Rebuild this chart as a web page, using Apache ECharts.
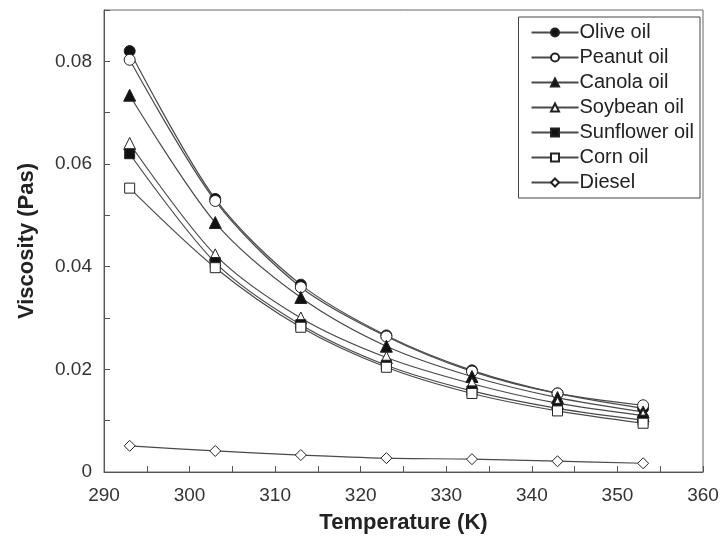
<!DOCTYPE html>
<html>
<head>
<meta charset="utf-8">
<script src="https://cdn.jsdelivr.net/npm/echarts@6/dist/echarts.min.js"></script>
<style>
  html, body { margin: 0; padding: 0; background: #fff; }
  #chart { width: 724px; height: 548px; }
</style>
</head>
<body>
<div id="chart"></div>
<script>
// temperatures (K)
const temps = [293, 303, 313, 323, 333, 343, 353];

// viscosity (Pa s)
const olive     = [0.0820, 0.0532, 0.0365, 0.0266, 0.0198, 0.0153, 0.0124];
const peanut    = [0.0803, 0.0528, 0.0360, 0.0264, 0.0196, 0.0153, 0.0130];
const canola    = [0.0734, 0.0486, 0.0340, 0.0245, 0.0186, 0.0145, 0.0117];
const soybean   = [0.0640, 0.0423, 0.0300, 0.0223, 0.0172, 0.0134, 0.0110];
const sunflower = [0.0620, 0.0408, 0.0287, 0.0208, 0.0158, 0.0124, 0.0101];
const corn      = [0.0553, 0.0398, 0.0282, 0.0204, 0.0153, 0.0119, 0.0095];
const diesel    = [0.0051, 0.0041, 0.0033, 0.0027, 0.0025, 0.0021, 0.0017];

const lineColor = '#4a4a4a';
const fontFamily = '"Liberation Sans", Arial, sans-serif';

const pairs = arr => temps.map((t, i) => [t, arr[i]]);

// symbol style per series
const makeSeries = (name, values, symbol, filled, size) => ({
  name,
  type: 'line',
  data: pairs(values),
  smooth: 0.3,
  symbol,
  symbolSize: size,
  showAllSymbol: true,
  lineStyle: { color: lineColor, width: 1.2 },
  itemStyle: {
    color: filled ? '#111' : '#fff',
    borderColor: '#222',
    borderWidth: 1
  },
  emphasis: { disabled: true }
});

const series = [
  makeSeries('Olive oil', olive, 'circle', true, 11),
  makeSeries('Peanut oil', peanut, 'circle', false, 11),
  makeSeries('Canola oil', canola, 'triangle', true, 12),
  makeSeries('Soybean oil', soybean, 'triangle', false, 12),
  makeSeries('Sunflower oil', sunflower, 'rect', true, 10),
  makeSeries('Corn oil', corn, 'rect', false, 10),
  makeSeries('Diesel', diesel, 'diamond', false, 11)
];

const chart = echarts.init(document.getElementById('chart'));

chart.setOption({
  animation: false,
  grid: {
    left: 104,
    right: 21,
    top: 10,
    bottom: 76,
    show: true,
    borderColor: '#666',
    borderWidth: 1
  },
  legend: {
    orient: 'vertical',
    right: 24,
    top: 17,
    padding: [5, 6, 5, 12],
    itemGap: 4,
    itemWidth: 47,
    itemHeight: 10,
    backgroundColor: '#fff',
    borderColor: '#444',
    borderWidth: 1,
    textStyle: { fontSize: 20, lineHeight: 21, color: '#222', fontFamily, padding: [0, 0, 0, -4] },
    data: series.map(s => s.name)
  },
  xAxis: {
    type: 'value',
    min: 290,
    max: 360,
    interval: 5,
    name: 'Temperature (K)',
    nameLocation: 'middle',
    nameGap: 40,
    nameTextStyle: { fontSize: 22, fontWeight: 'bold', color: '#222', fontFamily },
    axisLine: { lineStyle: { color: '#555' } },
    axisTick: { inside: true, length: 6, lineStyle: { color: '#555' } },
    axisLabel: {
      fontSize: 19,
      color: '#333',
      fontFamily,
      margin: 14,
      formatter: v => (v % 10 === 0 ? String(v) : '')
    },
    splitLine: { show: false }
  },
  yAxis: {
    type: 'value',
    min: 0,
    max: 0.09,
    interval: 0.01,
    name: 'Viscosity (Pas)',
    nameLocation: 'middle',
    nameGap: 66,
    nameTextStyle: { fontSize: 22, fontWeight: 'bold', color: '#222', fontFamily },
    axisLine: { lineStyle: { color: '#555' } },
    axisTick: { inside: true, length: 6, lineStyle: { color: '#555' } },
    axisLabel: {
      fontSize: 19,
      color: '#333',
      fontFamily,
      margin: 12,
      formatter: v => {
        const k = Math.round(v * 100);
        if (k === 0) return '0';
        if (k % 2 !== 0 || k > 8) return '';
        return (k / 100).toFixed(2);
      }
    },
    splitLine: { show: false }
  },
  series
});
</script>
</body>
</html>
